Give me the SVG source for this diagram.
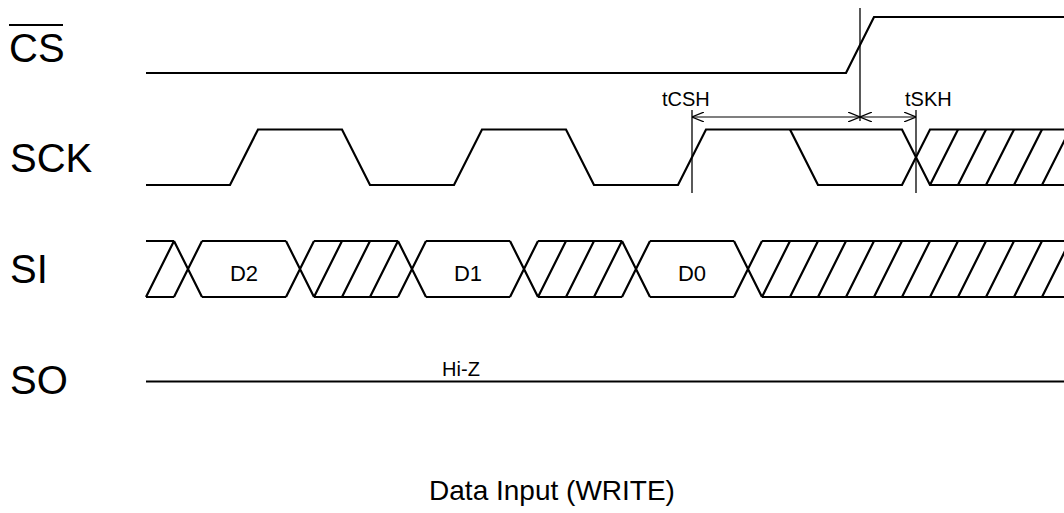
<svg xmlns="http://www.w3.org/2000/svg" width="1064" height="513" viewBox="0 0 1064 513">
<style>
.sig{fill:none;stroke:#000;stroke-width:2.2;stroke-linejoin:miter}
.thin{fill:none;stroke:#000;stroke-width:1.3}
.lbl{font-family:"Liberation Sans",Arial,sans-serif;font-size:40px;fill:#000}
.small{font-family:"Liberation Sans",Arial,sans-serif;font-size:20px;fill:#000}
.data{font-family:"Liberation Sans",Arial,sans-serif;font-size:22px;fill:#000;text-anchor:middle}
.title{font-family:"Liberation Sans",Arial,sans-serif;font-size:28px;fill:#000;text-anchor:middle}
</style>
<defs>
<marker id="ah" viewBox="0 0 12 10" refX="12" refY="5" markerWidth="12" markerHeight="10" markerUnits="userSpaceOnUse" orient="auto-start-reverse">
<path d="M0,0 L12,5 L0,10" fill="none" stroke="#000" stroke-width="1.2"/>
</marker>
</defs>
<rect width="1064" height="513" fill="#fff"/>
<g id="cs">
<text class="lbl" x="9" y="62">CS</text>
<line x1="9" y1="25" x2="63" y2="25" stroke="#000" stroke-width="2"/>
<path class="sig" d="M146,73 L846,73 L874,17 L1064,17"/>
</g>
<g id="sck">
<text class="lbl" x="10" y="172">SCK</text>
<path class="sig" d="M146,185 L230,185 L258,129.5 L342,129.5 L370,185 L454,185 L482,129.5 L566,129.5 L594,185 L678,185 L706,129.5 L902,129.5 L930,185 L1064,185"/>
<path class="sig" d="M790,129.5 L818,185 L902,185 L930,129.5 L1064,129.5"/>
<path class="sig" d="M958,185 L986,129.5 M986,185 L1014,129.5 M1014,185 L1042,129.5 M1042,185 L1070,129.5 M930,185 L958,129.5"/>
</g>
<g id="si">
<text class="lbl" x="10" y="283">SI</text>
<path class="sig" d="M146,241 H174 M202,241 H286 M314,241 H398 M426,241 H510 M538,241 H622 M650,241 H734 M762,241 H1064"/>
<path class="sig" d="M146,297 H174 M202,297 H286 M314,297 H398 M426,297 H510 M538,297 H622 M650,297 H734 M762,297 H1064"/>
<path class="sig" d="M174,241 L202,297 M174,297 L202,241 M286,241 L314,297 M286,297 L314,241 M398,241 L426,297 M398,297 L426,241 M510,241 L538,297 M510,297 L538,241 M622,241 L650,297 M622,297 L650,241 M734,241 L762,297 M734,297 L762,241"/>
<path class="sig" d="M146,297 L174,241 M314,297 L342,241 M342,297 L370,241 M370,297 L398,241 M538,297 L566,241 M566,297 L594,241 M594,297 L622,241 M762,297 L790,241 M790,297 L818,241 M818,297 L846,241 M846,297 L874,241 M874,297 L902,241 M902,297 L930,241 M930,297 L958,241 M958,297 L986,241 M986,297 L1014,241 M1014,297 L1042,241 M1042,297 L1070,241"/>
<text class="data" x="244" y="281">D2</text>
<text class="data" x="468" y="281">D1</text>
<text class="data" x="692" y="281">D0</text>
</g>
<g id="so">
<text class="lbl" x="10" y="394">SO</text>
<path class="sig" d="M146,381.5 H1064"/>
<text class="small" x="461" y="376" text-anchor="middle">Hi-Z</text>
</g>
<g id="connectors">
<line class="thin" x1="860" y1="8" x2="860" y2="121"/>
<line class="thin" x1="692" y1="110" x2="692" y2="193"/>
<line class="thin" x1="916" y1="110" x2="916" y2="193"/>
<line x1="692" y1="117" x2="860" y2="117" stroke="#000" stroke-width="1.2" marker-start="url(#ah)" marker-end="url(#ah)"/>
<line x1="860" y1="117" x2="916" y2="117" stroke="#000" stroke-width="1.2" marker-start="url(#ah)" marker-end="url(#ah)"/>
<text class="small" x="662" y="106">tCSH</text>
<text class="small" x="905" y="106">tSKH</text>
</g>
<text class="title" x="552" y="500">Data Input (WRITE)</text>
</svg>
